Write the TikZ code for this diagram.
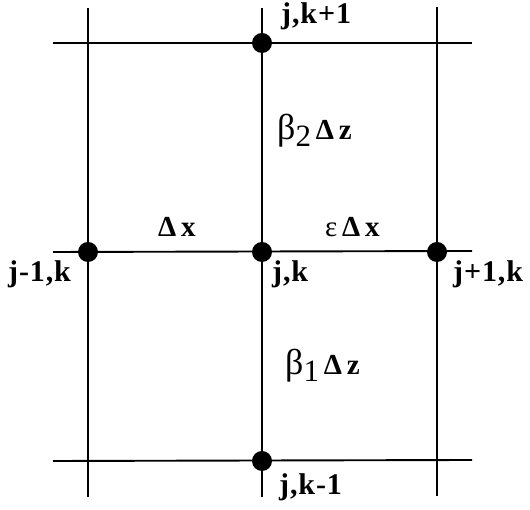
\documentclass[tikz,border=0pt]{standalone}
\usepackage{fontspec}
\setmainfont{Liberation Serif}
\newfontfamily\lblfont[LetterSpace=3]{Liberation Serif}
\newfontfamily\grkfont{Liberation Serif}
\begin{document}
\begin{tikzpicture}[x=1pt,y=1pt,
  gridline/.style={line width=1.9pt,line cap=butt},
  dotnode/.style={circle,fill=black,inner sep=0pt,minimum size=20pt},
  lbl/.style={anchor=base west,inner sep=0pt,font=\fontsize{30}{30}\lblfont\bfseries},
  glbl/.style={anchor=base west,inner sep=0pt,font=\fontsize{29}{29}\lblfont\bfseries}]
\useasboundingbox (0,0) rectangle (530,510);
% grid line ends
\coordinate (v1t) at (88,502);  \coordinate (v1b) at (88,13);
\coordinate (v2t) at (262,502); \coordinate (v2b) at (262,13);
\coordinate (v3t) at (437,503); \coordinate (v3b) at (437,14);
\coordinate (h1l) at (53,467);  \coordinate (h1r) at (472,467);
\coordinate (h2l) at (53,258);  \coordinate (h2r) at (472,259);
\coordinate (h3l) at (53,49);   \coordinate (h3r) at (472,50);
\draw[gridline] (v1t) -- (v1b);
\draw[gridline,line width=1.5pt] (v2t) -- (v2b);
\draw[gridline] (v3t) -- (v3b);
\draw[gridline] (h1l) -- (h1r);
\draw[gridline] (h2l) -- (h2r);
\draw[gridline] (h3l) -- (h3r);
% points
\node[dotnode] (top) at (262,467) {};
\node[dotnode] (left) at (88,258) {};
\node[dotnode] (center) at (262,258) {};
\node[dotnode] (right) at (437,258) {};
\node[dotnode] (bottom) at (262,49) {};
% labels
\node[lbl] (ltop) at (281,486) {j,k+1};
\node[lbl] (lleft) at (8,228) {j-1,k};
\node[lbl] (lcenter) at (272,228) {j,k};
\node[lbl] (lright) at (453,228) {j+1,k};
\node[lbl] (lbottom) at (279,15) {j,k-1};
\node[glbl] (dx) at (158,273) {Δ\,x};
\node[glbl] (edx) at (325,273) {{\grkfont\mdseries ε}\,Δ\,x};
\node[glbl] (b2) at (277,370) {{\grkfont\mdseries\fontsize{36}{36}\selectfont β\raisebox{-7pt}{\fontsize{31}{31}\selectfont 2}}\,Δ\,z};
\node[glbl] (b1) at (285,135) {{\grkfont\mdseries\fontsize{36}{36}\selectfont β\raisebox{-7pt}{\fontsize{31}{31}\selectfont 1}}\,Δ\,z};
\end{tikzpicture}
\end{document}
